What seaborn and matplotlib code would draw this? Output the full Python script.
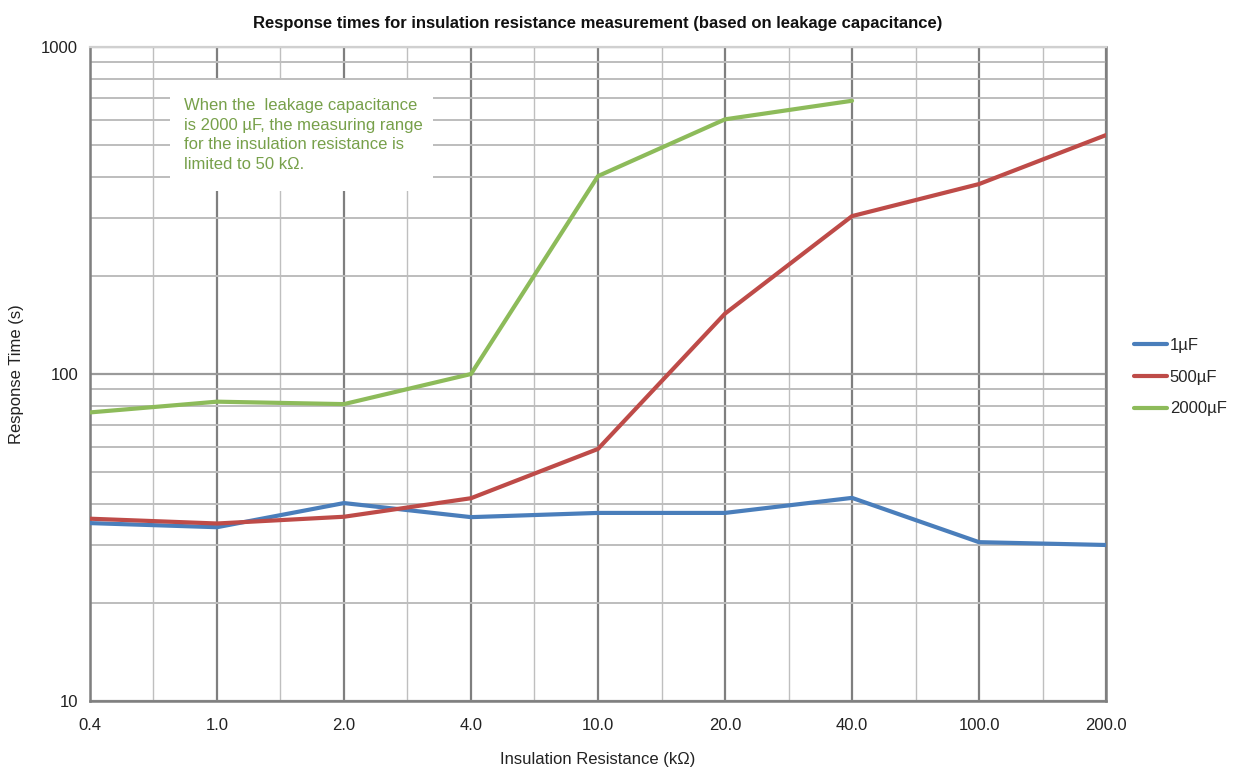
import numpy as np
import pandas as pd
import matplotlib.pyplot as plt
import seaborn as sns
from matplotlib.patches import Rectangle
from matplotlib.ticker import FixedLocator, NullFormatter

resistance = ['0.4', '1.0', '2.0', '4.0', '10.0', '20.0', '40.0', '100.0', '200.0']
t_1uf = [35.0, 34.0, 40.3, 36.5, 37.6, 37.6, 41.8, 30.6, 30.0]
t_500uf = [36.1, 34.9, 36.6, 41.7, 59.0, 153.0, 304.0, 381.0, 538.0]
t_2000uf = [76.3, 82.3, 80.9, 100.0, 403.0, 601.0, 685.0, np.nan, np.nan]

series = {'1µF': t_1uf, '500µF': t_500uf, '2000µF': t_2000uf}
rows = []
for name, vals in series.items():
    for i, v in enumerate(vals):
        rows.append({'pos': i, 'time': v, 'cap': name})
df = pd.DataFrame(rows).dropna()

sns.set_style('white')
plt.rcParams['font.family'] = ['Liberation Sans', 'DejaVu Sans']

fig = plt.figure(figsize=(12.34, 7.71), dpi=100)
ax = fig.add_axes([0.0729, 0.0908, 0.8234, 0.8482])

palette = {'1µF': '#4A7EBB', '500µF': '#BE4B48', '2000µF': '#8DBB5A'}
sns.lineplot(data=df, x='pos', y='time', hue='cap', palette=palette,
             linewidth=3, ax=ax, zorder=3)

ax.set_yscale('log')
ax.set_ylim(10, 1000)
ax.set_xlim(0, len(resistance) - 1)

# grid
ax.set_xticks(range(len(resistance)))
ax.set_xticklabels(resistance)
ax.xaxis.set_minor_locator(FixedLocator(np.arange(0.5, len(resistance) - 1, 1)))
ax.set_yticks([10, 100, 1000])
ax.set_yticklabels(['10', '100', '1000'])
minor_y = [m * d for d in (10, 100) for m in range(2, 10)]
ax.yaxis.set_minor_locator(FixedLocator(minor_y))
ax.yaxis.set_minor_formatter(NullFormatter())

ax.grid(which='major', axis='x', color='#7F7F7F', linewidth=1.6)
ax.grid(which='minor', axis='x', color='#BFBFBF', linewidth=1.0)
ax.grid(which='major', axis='y', color='#9A9A9A', linewidth=1.6)
ax.grid(which='minor', axis='y', color='#BDBDBD', linewidth=1.4)
ax.set_axisbelow(True)

ax.tick_params(axis='both', which='major', direction='out', length=5,
               color='#7F7F7F', labelsize=12, labelcolor='#222222', width=1.2)
ax.tick_params(axis='x', which='minor', length=0)
ax.tick_params(axis='y', which='minor', direction='out', length=5,
               color='#9A9A9A', width=1.2)
ax.tick_params(axis='x', pad=7)

for side in ['left', 'bottom', 'right']:
    ax.spines[side].set_color('#7F7F7F')
    ax.spines[side].set_linewidth(1.8)
ax.spines['top'].set_color('#D0D0D0')
ax.spines['top'].set_linewidth(1.6)

ax.set_xlabel('Insulation Resistance (kΩ)', fontsize=12, color='#222222', labelpad=14)
ax.set_ylabel('Response Time (s)', fontsize=12, color='#222222', labelpad=12)
ax.set_title('Response times for insulation resistance measurement (based on leakage capacitance)',
             fontsize=12, fontweight='bold', color='#111111', pad=14)

# annotation box (white, hides grid)
ax.add_patch(Rectangle((0.0787, 0.780), 0.259, 0.170, transform=ax.transAxes,
                       facecolor='white', edgecolor='none', zorder=2))
ax.text(0.0925, 0.922,
        'When the  leakage capacitance\nis 2000 µF, the measuring range\nfor the insulation resistance is\nlimited to 50 kΩ.',
        transform=ax.transAxes, fontsize=12, color='#77A04A', va='top', ha='left',
        linespacing=1.38, zorder=4)

leg = ax.legend(loc='center left', bbox_to_anchor=(1.0128, 0.495), frameon=False,
                fontsize=12, handlelength=2.0, handletextpad=0.15,
                labelspacing=1.0, title=None)

fig.savefig('out.png', dpi=100)
